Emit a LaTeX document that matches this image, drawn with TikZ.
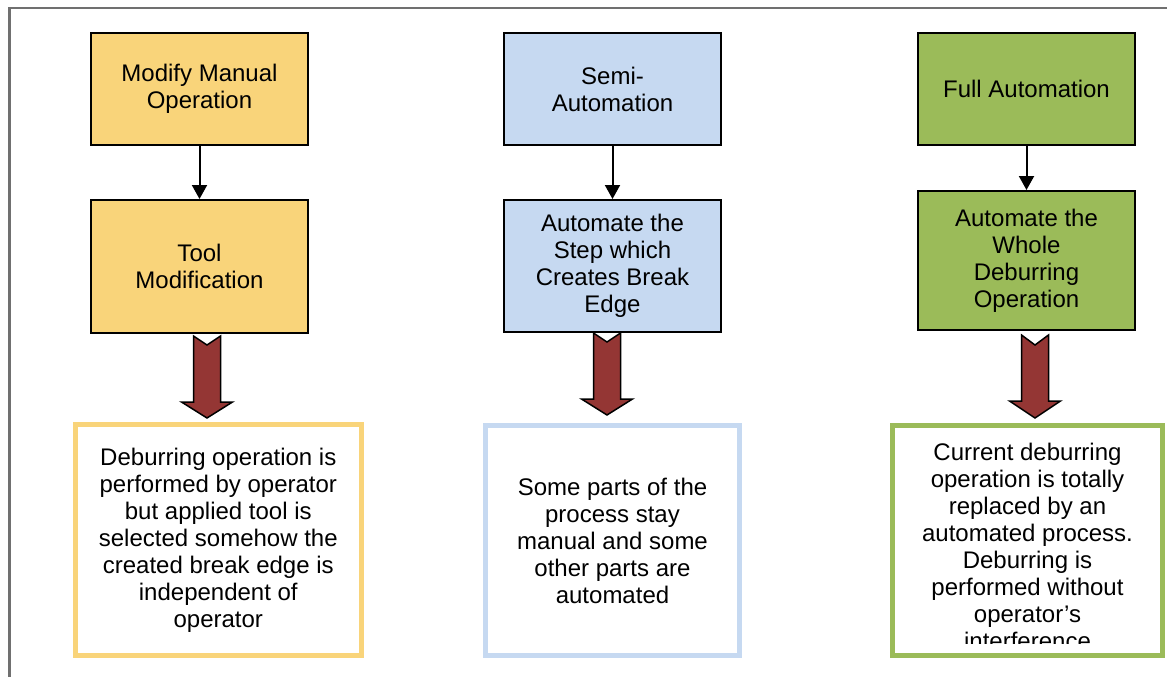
\documentclass[tikz,border=0pt]{standalone}
\usepackage{fontspec}
\setmainfont{Liberation Sans}
\usetikzlibrary{arrows.meta}
\definecolor{goldfill}{HTML}{F9D47A}
\definecolor{bluefill}{HTML}{C6D9F1}
\definecolor{greenfill}{HTML}{9BBB59}
\definecolor{blockred}{HTML}{943634}
\definecolor{framegray}{HTML}{707070}

\begin{document}
\begin{tikzpicture}[x=1pt, y=-1pt, >={Triangle[width=15pt,length=14pt]},
  every node/.style={font=\fontsize{24}{27}\selectfont, align=center, inner sep=0pt},
  stagebox/.style={draw=black, line width=2pt, minimum width=217pt},
  resultbox/.style={fill=white, line width=5pt}]
  \useasboundingbox (0,0) rectangle (1167,677);

  % 1. outer frame (only top and left edges are visible)
  \draw[framegray, line width=2.5pt] (9.5,677) -- (9.5,8) -- (1167,8);

  % 2. column one: manual operation
  \node[stagebox, fill=goldfill, minimum height=112pt] (manual) at (199.5,89) {Modify Manual\\Operation};
  \node[stagebox, fill=goldfill, minimum height=133pt] (toolmod) at (199.5,266.5) {Tool\\Modification};
  \node[resultbox, draw=goldfill, minimum width=285.5pt, minimum height=230.5pt] (manualres) at (218.3,540)
    {Deburring operation is\\performed by operator\\but applied tool is\\selected somehow the\\created break edge is\\independent of\\operator};

  % 3. column two: semi-automation
  \node[stagebox, fill=bluefill, minimum height=112pt] (semi) at (612.5,89) {Semi-\\Automation};
  \node[stagebox, fill=bluefill, minimum height=132pt] (stepauto) at (612.5,266) {Automate the\\Step which\\Creates Break\\Edge};
  \node[resultbox, draw=bluefill, minimum width=254pt, minimum height=230pt] (semires) at (612.5,540.5)
    {Some parts of the\\process stay\\manual and some\\other parts are\\automated};

  % 4. column three: full automation
  \node[stagebox, fill=greenfill, minimum height=112pt] (full) at (1026.5,89) {Full Automation};
  \node[stagebox, fill=greenfill, minimum height=139pt] (wholeauto) at (1026.5,260.5) {Automate the\\Whole\\Deburring\\Operation};
  \node[resultbox, draw=greenfill, minimum width=270pt, minimum height=230pt] (fullres) at (1027.5,540.5) {};

  % overflowing text is cut at the inner edge of the box
  \begin{scope}
    \clip (895,428) rectangle (1160,643);
    \node[anchor=north] (fulltxt) at (1027.5,443)
      {Current deburring\\operation is totally\\replaced by an\\automated process.\\Deburring is\\performed without\\operator’s\\interference};
  \end{scope}

  % 5. thin connectors between stages
  \draw[->, line width=2pt] (manual) -- (toolmod);
  \draw[->, line width=2pt] (semi) -- (stepauto);
  \draw[->, line width=2pt] (full) -- (wholeauto);

  % 6. notched block arrows towards the results
  \foreach \cx/\yt/\yn/\yh/\yb in {207/336/345/402/418, 607/333/342/399/415, 1035/335/345/401/418}
    \draw[fill=blockred, line width=1.5pt] (\cx-13.5,\yt) -- (\cx,\yn) -- (\cx+13.5,\yt) -- (\cx+13.5,\yh)
      -- (\cx+25.5,\yh) -- (\cx,\yb) -- (\cx-25.5,\yh) -- (\cx-13.5,\yh) -- cycle;
\end{tikzpicture}
\end{document}
